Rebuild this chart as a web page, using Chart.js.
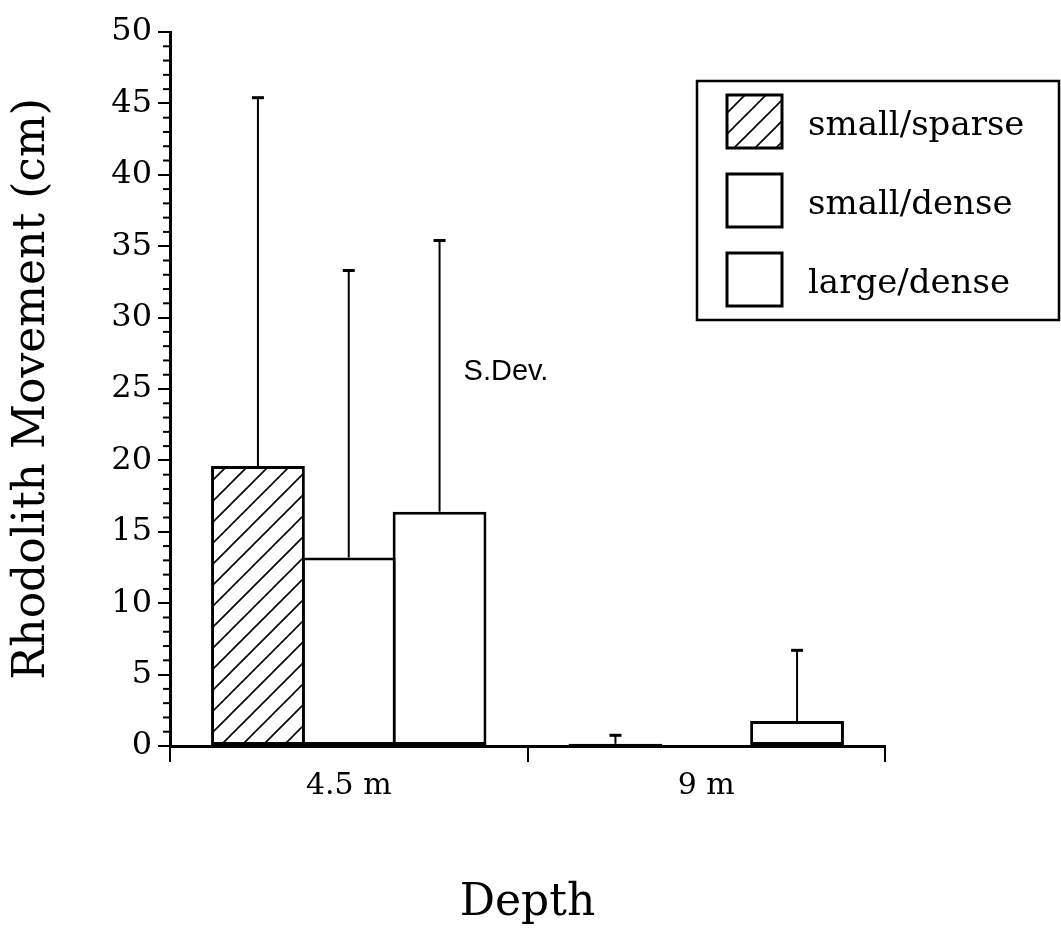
<!DOCTYPE html>
<html>
<head>
<meta charset="utf-8">
<script src="https://cdn.jsdelivr.net/npm/chart.js@4.4.1/dist/chart.umd.min.js"></script>
<style>
  html, body { margin: 0; padding: 0; background: #fff; }
  #wrap { width: 1061px; height: 933px; }
</style>
</head>
<body>
<div id="wrap"><canvas id="movementChart" width="1061" height="933"></canvas></div>
<script>
const depths = ["4.5 m", "9 m"];
const seriesNames = ["small/sparse", "small/dense", "large/dense"];

// mean movement (cm)
const smallSparse = [19.6, 0.15];
const smallDense = [13.2, 0];
const largeDense = [16.4, 1.75];

// standard deviations, drawn upward only
const smallSparseSD = [25.8, 0.6];
const smallDenseSD = [20.1, 0];
const largeDenseSD = [19.0, 4.95];

const serifFont = "'DejaVu Serif', serif";

const makeHatch = () => {
  const size = 21;
  const c = document.createElement("canvas");
  c.width = size;
  c.height = size;
  const g = c.getContext("2d");
  g.fillStyle = "#fff";
  g.fillRect(0, 0, size, size);
  g.strokeStyle = "#000";
  g.lineWidth = 1.6;
  g.beginPath();
  g.moveTo(-5, size + 5);
  g.lineTo(size + 5, -5);
  g.moveTo(-5, 5);
  g.lineTo(5, -5);
  g.moveTo(size - 5, size + 5);
  g.lineTo(size + 5, size - 5);
  g.stroke();
  return g.createPattern(c, "repeat");
};

const hatch = makeHatch();

// little ticks between the labelled ones on the y axis
const minorTicks = {
  id: "minorTicks",
  afterDraw(chart) {
    const { ctx } = chart;
    const y = chart.scales.y;
    ctx.save();
    ctx.strokeStyle = "#000";
    ctx.lineWidth = 2;
    for (let v = y.min; v <= y.max; v++) {
      if (v % 5 === 0) continue;
      const py = y.getPixelForValue(v);
      ctx.beginPath();
      ctx.moveTo(y.right - 7, py);
      ctx.lineTo(y.right, py);
      ctx.stroke();
    }
    ctx.restore();
  },
};

const errorBars = {
  id: "errorBars",
  afterDatasetsDraw(chart) {
    const { ctx } = chart;
    const yScale = chart.scales.y;
    ctx.save();
    ctx.strokeStyle = "#000";
    chart.data.datasets.forEach((ds, i) => {
      const meta = chart.getDatasetMeta(i);
      meta.data.forEach((bar, j) => {
        const sd = ds.sd[j];
        if (!sd) return;
        const top = yScale.getPixelForValue(ds.data[j] + sd);
        ctx.lineWidth = 2;
        ctx.beginPath();
        ctx.moveTo(bar.x, bar.y);
        ctx.lineTo(bar.x, top);
        ctx.stroke();
        ctx.lineWidth = 3;
        ctx.beginPath();
        ctx.moveTo(bar.x - 6, top);
        ctx.lineTo(bar.x + 6, top);
        ctx.stroke();
      });
    });

    // "S.Dev." note beside the 4.5 m group
    const lastBar = chart.getDatasetMeta(2).data[0];
    ctx.fillStyle = "#000";
    ctx.font = "29px 'Liberation Sans', Arial, sans-serif";
    ctx.textBaseline = "alphabetic";
    ctx.fillText("S.Dev.", lastBar.x + 24, yScale.getPixelForValue(25.6));
    ctx.restore();
  },
};

const legendBox = {
  id: "legendBox",
  afterDraw(chart) {
    const { ctx, chartArea } = chart;
    const left = chartArea.right - 188;
    const top = 81;
    const right = chart.width - 2;
    const bottom = 320;
    ctx.save();
    ctx.strokeStyle = "#000";
    ctx.lineWidth = 2.5;
    ctx.strokeRect(left, top, right - left, bottom - top);
    ctx.font = "34px " + serifFont;
    ctx.textBaseline = "alphabetic";
    chart.data.datasets.forEach((ds, i) => {
      const boxY = top + 14 + i * 79;
      ctx.fillStyle = ds.backgroundColor;
      ctx.fillRect(left + 30, boxY, 55, 53);
      ctx.lineWidth = 3;
      ctx.strokeRect(left + 30, boxY, 55, 53);
      ctx.fillStyle = "#000";
      ctx.fillText(ds.label, left + 111, boxY + 40);
    });
    ctx.restore();
  },
};

const makeDataset = (label, values, sd, fill) => ({
  label,
  data: values,
  sd,
  backgroundColor: fill,
  borderColor: "#000",
  borderWidth: 3,
  borderSkipped: false,
  categoryPercentage: 0.762,
  barPercentage: 1.033,
});

const data = {
  labels: depths,
  datasets: [
    makeDataset(seriesNames[0], smallSparse, smallSparseSD, hatch),
    makeDataset(seriesNames[1], smallDense, smallDenseSD, "#fff"),
    makeDataset(seriesNames[2], largeDense, largeDenseSD, "#fff"),
  ],
};

const config = {
  type: "bar",
  data: data,
  options: {
    responsive: false,
    animation: false,
    devicePixelRatio: 1,
    layout: {
      padding: { left: 0, top: 32, right: 176, bottom: 0 },
    },
    plugins: {
      legend: { display: false },
      tooltip: { enabled: false },
      title: { display: false },
    },
    scales: {
      x: {
        grid: {
          offset: true,
          drawOnChartArea: false,
          tickLength: 16,
          color: "#000",
          lineWidth: 2,
        },
        border: { color: "#000", width: 3 },
        ticks: {
          color: "#000",
          padding: 6,
          font: { family: serifFont, size: 30 },
        },
        title: {
          display: true,
          text: "Depth",
          color: "#000",
          padding: { top: 0, bottom: 3 },
          font: { family: serifFont, size: 44 },
        },
        afterFit: (scale) => {
          scale.height = 187;
        },
      },
      y: {
        min: 0,
        max: 50,
        grid: {
          drawOnChartArea: false,
          tickLength: 12,
          color: "#000",
          lineWidth: 2,
        },
        border: { color: "#000", width: 3 },
        ticks: {
          stepSize: 5,
          color: "#000",
          padding: 6,
          font: { family: serifFont, size: 32 },
        },
        title: {
          display: true,
          text: "Rhodolith Movement (cm)",
          color: "#000",
          padding: { top: 6, bottom: 0 },
          font: { family: serifFont, size: 44 },
        },
        afterFit: (scale) => {
          scale.width = 170;
        },
      },
    },
  },
  plugins: [minorTicks, errorBars, legendBox],
};

const movementChart = document.getElementById("movementChart");
new Chart(movementChart, config);
</script>
</body>
</html>
